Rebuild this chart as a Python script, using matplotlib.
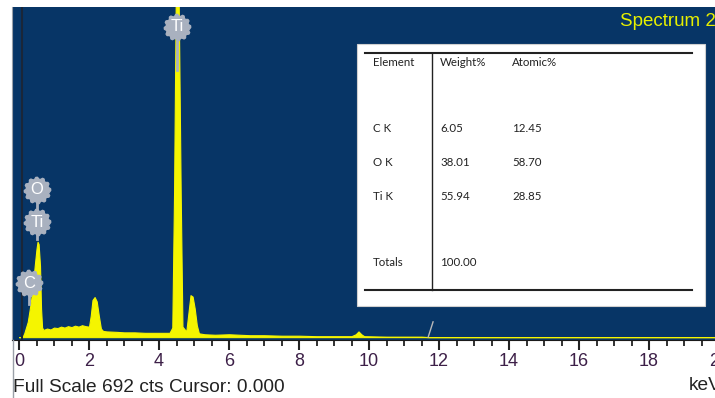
import numpy as np
import matplotlib.pyplot as plt
from matplotlib.path import Path
from matplotlib.patches import Rectangle
from matplotlib.lines import Line2D

# EDS spectrum, counts per channel (full scale 692 cts)
energy = [0.00, 0.10, 0.15, 0.20, 0.25, 0.30, 0.35, 0.40, 0.45, 0.50, 0.53, 0.56,
          0.60, 0.63, 0.66, 0.70, 0.80, 0.90, 1.00, 1.10, 1.20, 1.30, 1.40, 1.50,
          1.60, 1.70, 1.80, 1.90, 2.00, 2.05, 2.10, 2.16, 2.22, 2.28, 2.34, 2.40,
          2.50, 2.80, 3.00, 3.30, 3.60, 4.00, 4.30, 4.38, 4.43, 4.48, 4.56, 4.62,
          4.67, 4.78, 4.84, 4.90, 4.96, 5.02, 5.08, 5.14, 5.30, 5.60, 6.00, 6.30,
          6.60, 7.00, 7.50, 8.00, 8.50, 9.00, 9.50, 9.62, 9.70, 9.78, 9.86, 10.5,
          11.5, 11.7, 20.0]
counts = [0, 0, 8, 20, 32, 55, 80, 110, 150, 185, 200, 195,
          150, 60, 20, 15, 18, 16, 20, 19, 22, 20, 23, 21,
          24, 22, 25, 23, 22, 45, 78, 84, 75, 45, 18, 13,
          12, 11, 10, 10, 9, 9, 9, 20, 300, 720, 720, 300,
          22, 12, 50, 88, 85, 60, 25, 8, 6, 5, 6, 5,
          4, 4, 3, 3, 2, 2, 2, 6, 12, 6, 2, 1,
          1, 0, 0]

# peak badges: symbol, energy, badge height
badge_sym = ["Ti", "O", "Ti", "C"]
badge_x = [4.51, 0.51, 0.51, 0.29]
badge_y = [651, 309, 241, 113]
badge_tail = [560, 241, 205, 70]

# quantification table
elements = ["C K", "O K", "Ti K"]
weight = ["6.05", "38.01", "55.94"]
atomic = ["12.45", "58.70", "28.85"]
total = "100.00"

W, H = 715, 398
bg = "#073566"
yellow = "#f5f500"
badge_col = "#a9b1bf"

fig = plt.figure(figsize=(W / 100, H / 100), dpi=100)
ax = fig.add_axes([12 / W, 1 - 340 / H, 714 / W, 333 / H])
ax.set_facecolor(bg)
ax.set_xlim(-0.2, 20.2)
ax.set_ylim(-6, 692)

ax.fill_between(energy, counts, 0, color=yellow, lw=0.8, edgecolor=yellow)
ax.axvline(0.086, color="#1a2638", lw=1.5)
ax.plot([11.69, 11.83], [0, 32], color="#b8b8b8", lw=1)

# gear-shaped badge marker
teeth = 12
ang = np.linspace(0, 2 * np.pi, teeth * 4, endpoint=False)
rad = np.tile([1.0, 1.0, 0.86, 0.86], teeth)
gear = Path(np.column_stack([rad * np.cos(ang), rad * np.sin(ang)]), closed=True)

for s, x, y, t in zip(badge_sym, badge_x, badge_y, badge_tail):
    ax.plot([x, x], [t, y], color=badge_col, lw=2, zorder=3)
    ax.plot(x, y, marker=gear, ms=19, color=badge_col, mec=badge_col, zorder=4)
    ax.text(x, y, s, color="white", fontsize=12, ha="center", va="center",
            family="Liberation Sans", zorder=5)

ax.set_xticks(range(0, 21, 2))
ax.set_xticks(np.arange(0, 20.5, 0.5), minor=True)
ax.set_yticks([])
ax.tick_params(axis="x", which="major", length=7, width=1.5, color="#222222",
               labelsize=13, labelcolor="#3d2048", pad=2)
ax.tick_params(axis="x", which="minor", length=4, width=1.3, color="#222222")
for lab in ax.get_xticklabels():
    lab.set_family("Liberation Sans")
for side in ["top", "right"]:
    ax.spines[side].set_visible(False)
ax.spines["left"].set_color("#9aa0a8")
ax.spines["bottom"].set_color("#1a1a1a")

fig.text(620 / W, 1 - 21 / H, "Spectrum 2", color="#e8f000", fontsize=13.5,
         family="Liberation Sans", va="center", ha="left")
fig.text(13 / W, 1 - 387 / H, "Full Scale 692 cts Cursor: 0.000", color="#222222",
         fontsize=13.8, family="Liberation Sans", va="center", ha="left")
fig.text(689 / W, 1 - 386 / H, "keV", color="#222222", fontsize=13.8,
         family="Liberation Sans", va="center", ha="left")


# table box in pixel coordinates
def fx(px):
    return px / W


def fy(py):
    return 1 - py / H


fig.lines.append(Line2D([fx(12.5), fx(12.5)], [fy(340), 0], color="#9aa0a8",
                        lw=1, transform=fig.transFigure))
fig.patches.append(Rectangle((fx(357), fy(306)), fx(705) - fx(357), fy(44) - fy(306),
                             transform=fig.transFigure, facecolor="white",
                             edgecolor="#d0d0d0", lw=0.8))
for yy in [53, 290]:
    fig.lines.append(Line2D([fx(365), fx(692)], [fy(yy), fy(yy)], color="#222222",
                            lw=1.5, transform=fig.transFigure))
fig.lines.append(Line2D([fx(432), fx(432)], [fy(53), fy(290)], color="#222222",
                        lw=1, transform=fig.transFigure))

tkw = dict(fontsize=8.3, family="Lato", color="#222222", va="center", ha="left")
fig.text(fx(373), fy(62), "Element", **tkw)
fig.text(fx(440), fy(62), "Weight%", **tkw)
fig.text(fx(512), fy(62), "Atomic%", **tkw)
for i, (e, w, a) in enumerate(zip(elements, weight, atomic)):
    yy = 128 + i * 34.5
    fig.text(fx(373), fy(yy), e, **tkw)
    fig.text(fx(440), fy(yy), w, **tkw)
    fig.text(fx(512), fy(yy), a, **tkw)
fig.text(fx(373), fy(263), "Totals", **tkw)
fig.text(fx(440), fy(263), total, **tkw)

fig.savefig("out.png", dpi=100)
